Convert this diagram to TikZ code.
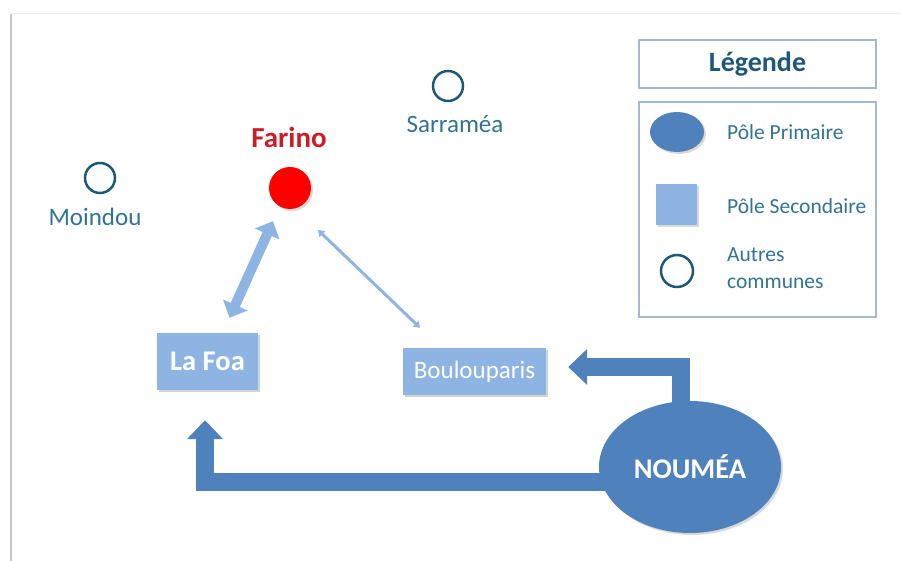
\documentclass[tikz,border=0pt]{standalone}
\usepackage{fontspec}
\setmainfont{Carlito}
\usetikzlibrary{arrows.meta,positioning,shapes.geometric,shadows,backgrounds}
\definecolor{ncprim}{RGB}{79,129,189}
\definecolor{ncsec}{RGB}{142,180,227}
\definecolor{nctext}{RGB}{49,115,148}
\definecolor{ncdark}{RGB}{30,88,120}
\definecolor{ncred}{RGB}{200,30,40}
\definecolor{ncframe}{RGB}{165,185,205}

\begin{document}
\begin{tikzpicture}[x=1pt,y=1pt,
  commune/.style={circle, draw=ncdark, line width=2.5pt, minimum size=30pt, inner sep=0pt},
  nclabel/.style={text=nctext, font=\fontsize{25}{28}\selectfont, inner sep=1pt},
  leglabel/.style={text=nctext, font=\fontsize{21.5}{27}\selectfont, inner sep=1pt, anchor=west},
  secbox/.style={rectangle, fill=ncsec, text=white, inner sep=0pt,
    drop shadow={shadow xshift=2pt, shadow yshift=-2pt, opacity=0.35}},
  legbox/.style={rectangle, draw=ncframe, line width=1.5pt, minimum width=237pt},
  bigarrow/.style={ncprim, line width=18pt, -{Triangle[length=19pt,width=35pt]}},
  softshadow/.style={drop shadow={shadow xshift=2pt, shadow yshift=-2pt, opacity=0.3}}]
\useasboundingbox (0,0) rectangle (901,561);
% -- frame of the screenshot --
\draw[black!22, line width=2pt] (11,0) -- (11,547);
\draw[black!8, line width=1pt] (11,547) -- (901,547);
% -- other communes --
\node[commune] (moindou) at (100,383) {};
\node[nclabel] (moindoulbl) at (95,344) {Moindou};
\node[commune] (sarramea) at (448,475) {};
\node[nclabel] (sarramealbl) at (455,437) {Sarraméa};
% -- Farino --
\node[circle, fill=red, minimum size=42pt, inner sep=0pt, softshadow] (farino) at (290,373) {};
\node[text=ncred, font=\fontsize{29}{32}\selectfont\bfseries] (farinolbl) at (289,424) {Farino};
% -- secondary poles --
\node[secbox, minimum width=101pt, minimum height=57pt, font=\fontsize{28.5}{32}\selectfont\bfseries]
  (lafoa) at (207.5,199.5) {La Foa};
\node[secbox, minimum width=143pt, minimum height=47pt, font=\fontsize{25}{28}\selectfont]
  (boulou) at (474.5,189.5) {Boulouparis};
% -- primary pole --
\node[ellipse, fill=ncprim, text=white, minimum width=182pt, minimum height=132pt, inner sep=0pt,
  font=\fontsize{28.5}{32}\selectfont\bfseries, softshadow] (noumea) at (690,94) {NOUMÉA};
% -- flows --
\begin{scope}[on background layer]
\draw[bigarrow] ([yshift=-15pt]noumea.center) -| ([xshift=-2.5pt,yshift=-30pt]lafoa.south);
\draw[bigarrow] ([xshift=-9pt]noumea.center) |- ([xshift=22pt,yshift=4.5pt]boulou.east);
\end{scope}
\draw[ncsec, line width=10pt, {Triangle[length=14pt,width=26pt]}-{Triangle[length=14pt,width=26pt]}]
  ([xshift=22pt,yshift=15pt]lafoa.north) -- ([xshift=-17pt,yshift=-12pt]farino.south);
\draw[ncsec, line width=3pt, {Triangle[length=6pt,width=8pt]}-{Triangle[length=6pt,width=8pt]}]
  ([xshift=28pt,yshift=-42pt]farino.center) -- ([xshift=-54.5pt,yshift=20pt]boulou.north);
% -- legend --
\node[legbox, minimum height=48pt, text=ncdark, font=\fontsize{28}{31}\selectfont\bfseries]
  (legtitle) at (757.5,497) {Légende};
\node[legbox, minimum height=215pt] (legframe) at (757.5,351.5) {};
\node[ellipse, fill=ncprim, minimum width=54pt, minimum height=40pt, inner sep=0pt, softshadow]
  (legprim) at (677,429) {};
\node[rectangle, fill=ncsec, minimum size=41pt, inner sep=0pt, softshadow] (legsec) at (676.5,356.5) {};
\node[commune, minimum size=32pt] (legcomm) at (677,290) {};
\node[leglabel] (legprimlbl) at (726,429) {Pôle Primaire};
\node[leglabel] (legseclbl) at (726,355) {Pôle Secondaire};
\node[leglabel, align=left] (legcommlbl) at (726,293) {Autres\\communes};
\end{tikzpicture}
\end{document}
